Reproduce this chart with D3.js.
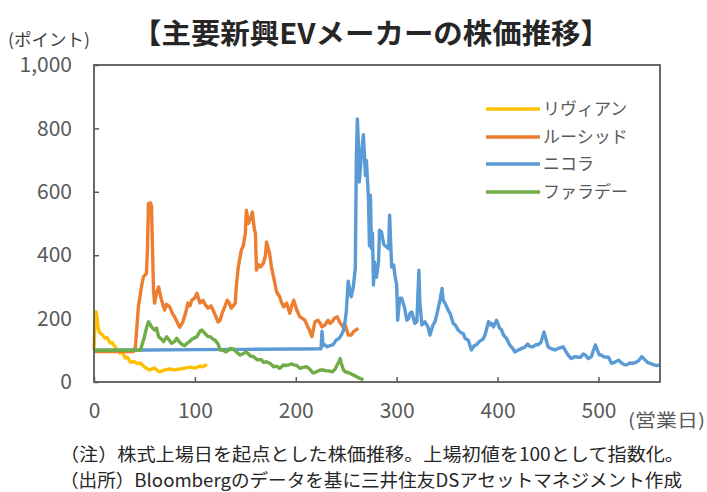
<!DOCTYPE html>
<html><head><meta charset="utf-8">
<script src="https://cdn.jsdelivr.net/npm/d3@7"></script>
<style>
html,body{margin:0;padding:0;background:#fff;}
svg{display:block;font-family:"Noto Sans CJK JP","Noto Sans",sans-serif;}
</style></head>
<body><svg id="c" width="707" height="492"></svg>
<script>
const title = "【主要新興EVメーカーの株価推移】";
const yUnit = "(ポイント)";
const xUnit = "(営業日)";
const notes = ["（注）株式上場日を起点とした株価推移。上場初値を100として指数化。",
               "（出所）Bloombergのデータを基に三井住友DSアセットマネジメント作成"];
const seriesNames = ["リヴィアン","ルーシッド","ニコラ","ファラデー"];
const seriesColors = ["#FFC000","#ED7D31","#5B9BD5","#70AD47"];
const xTicks = [0,100,200,300,400,500];
const yTicks = [0,200,400,600,800,1000];

// [営業日, 指数]
const rivian = [[0,100],[1,185],[2,222],[3,205],[4,175],[5,160],[6,154],[8,150],[11,138],[13,140],[16,123],[18,125],[21,110],[24,100],[26,91],[28,95],[31,76],[33,78],[36,63],[40,64],[43,58],[46,60],[50,47],[55,38],[58,42],[60,44],[63,36],[65,32],[70,38],[75,41],[80,38],[85,41],[90,44],[95,47],[100,44],[105,50],[108,48],[110,52],[112,55]];
const lucid = [[0,96],[39,96],[41,110],[44,237],[47,300],[49,332],[52,343],[53,420],[54,563],[56,565],[57,555],[58,420],[59,290],[60,249],[62,280],[64,300],[66,270],[67,258],[70,227],[72,245],[75,237],[78,215],[80,205],[83,185],[85,173],[88,189],[91,220],[93,249],[95,240],[97,258],[100,265],[102,280],[105,249],[108,258],[110,245],[113,233],[116,240],[118,227],[121,205],[123,189],[125,195],[127,217],[130,240],[132,258],[134,250],[136,233],[138,240],[140,249],[141,300],[143,362],[146,416],[148,430],[150,470],[151,542],[153,500],[155,515],[157,536],[159,480],[160,469],[161,353],[163,370],[165,363],[168,375],[170,400],[171,442],[172,430],[174,406],[176,360],[178,331],[181,284],[184,269],[186,250],[188,237],[191,249],[194,217],[196,240],[198,258],[201,227],[204,206],[207,200],[209,195],[212,174],[214,160],[216,143],[219,190],[222,195],[224,186],[226,174],[229,180],[232,195],[234,185],[236,190],[238,200],[241,206],[244,186],[247,174],[249,180],[252,148],[255,148],[257,158],[260,165],[262,169]];
const nikola = [[0,100],[50,101],[100,102],[150,103],[200,104],[225,105],[226,160],[227,115],[229,117],[231,111],[234,115],[237,118],[240,132],[243,138],[245,148],[247,160],[249,195],[250,221],[252,318],[254,280],[255,269],[257,300],[259,358],[260,700],[261,830],[262,760],[263,631],[265,715],[267,780],[268,720],[269,652],[270,699],[271,640],[272,584],[273,430],[274,589],[275,421],[276,470],[277,306],[278,379],[280,330],[282,379],[283,479],[285,473],[287,437],[288,431],[290,426],[292,421],[293,526],[295,363],[297,369],[298,342],[300,306],[301,195],[303,264],[305,264],[308,232],[310,195],[312,201],[313,216],[315,221],[318,185],[320,190],[322,353],[323,250],[325,180],[328,190],[331,174],[333,148],[336,180],[338,190],[340,216],[343,260],[345,295],[346,258],[348,248],[351,227],[353,216],[356,185],[358,180],[361,164],[364,155],[366,153],[368,137],[371,132],[374,101],[377,115],[379,117],[382,128],[384,132],[386,137],[388,153],[391,190],[393,180],[394,185],[396,174],[399,195],[402,170],[404,164],[406,148],[409,137],[412,117],[415,106],[417,95],[420,100],[424,106],[427,110],[430,120],[432,112],[435,111],[438,118],[440,117],[443,125],[446,158],[448,135],[450,111],[453,105],[457,101],[460,106],[462,108],[465,111],[468,95],[470,85],[473,74],[477,80],[480,78],[482,78],[485,88],[487,85],[490,74],[493,80],[495,100],[497,117],[499,100],[501,85],[503,85],[505,80],[508,78],[510,78],[513,59],[516,62],[520,69],[523,60],[526,54],[528,54],[531,60],[534,59],[537,62],[540,68],[543,80],[546,70],[549,61],[552,58],[555,54],[558,52],[561,54]];
const faraday = [[0,100],[46,100],[47,111],[50,143],[52,170],[54,190],[56,180],[57,174],[60,164],[62,170],[64,143],[67,135],[69,127],[72,143],[75,130],[77,122],[80,128],[82,138],[85,125],[88,117],[90,115],[92,122],[95,128],[97,135],[100,140],[102,143],[105,160],[107,164],[110,153],[113,143],[115,143],[118,135],[120,132],[123,120],[125,101],[128,100],[131,95],[135,106],[138,104],[141,95],[145,85],[148,90],[151,95],[155,82],[158,80],[162,70],[166,70],[168,62],[171,64],[174,59],[176,55],[178,48],[181,50],[184,43],[188,54],[190,52],[193,54],[196,57],[198,54],[201,52],[204,43],[207,46],[211,48],[214,40],[217,29],[219,30],[222,35],[225,38],[227,38],[230,35],[233,35],[236,32],[239,40],[241,54],[243,65],[244,74],[245,60],[247,40],[249,32],[252,30],[254,27],[257,22],[260,17],[263,12],[265,10],[267,6]];
const allSeries = [rivian, lucid, nikola, faraday];

const svg = d3.select("#c");
const L = 94, R = 660, T = 65, B = 382;
const x = d3.scaleLinear().domain([0, 561]).range([L, R]);
const y = d3.scaleLinear().domain([0, 1000]).range([B, T]);
const gray = "#595959";

// title
svg.append("text").attr("x", 371).attr("y", 44).attr("text-anchor", "middle")
  .attr("font-size", 28).attr("font-weight", "bold").attr("fill", "#262626")
  .attr("textLength", 478).attr("lengthAdjust", "spacingAndGlyphs").text(title);
svg.append("text").attr("x", 8).attr("y", 46).attr("font-size", 17).attr("fill", "#404040")
  .attr("textLength", 82).attr("lengthAdjust", "spacingAndGlyphs").text(yUnit);

// axes
const yAxis = d3.axisLeft(y).tickValues(yTicks).tickFormat(d3.format(",")).tickSizeInner(-5).tickSizeOuter(0).tickPadding(22);
const gy = svg.append("g").attr("transform", `translate(${L},0)`).call(yAxis);
const xAxis = d3.axisBottom(x).tickValues(xTicks).tickSizeInner(-5).tickSizeOuter(0).tickPadding(21);
const gx = svg.append("g").attr("transform", `translate(0,${B})`).call(xAxis);
[gx, gy].forEach(g => {
  g.select(".domain").remove();
  g.selectAll(".tick line").attr("stroke", gray).attr("stroke-width", 1.5);
  g.selectAll(".tick text").attr("fill", gray).attr("font-size", 21)
    .attr("font-family", "'Noto Sans CJK JP',sans-serif");
});

// lines
const line = d3.line().x(d => x(d[0])).y(d => y(d[1]));
allSeries.forEach((s, i) => {
  svg.append("path").datum(s).attr("d", line).attr("fill", "none")
    .attr("stroke", seriesColors[i]).attr("stroke-width", 3.4).attr("stroke-linejoin", "round");
});

// frame
svg.append("rect").attr("x", L).attr("y", T).attr("width", R - L).attr("height", B - T)
  .attr("fill", "none").attr("stroke", gray).attr("stroke-width", 1.8);

// legend
const legY = [109, 137, 164, 192];
seriesNames.forEach((n, i) => {
  svg.append("line").attr("x1", 486).attr("x2", 540).attr("y1", legY[i]).attr("y2", legY[i])
    .attr("stroke", seriesColors[i]).attr("stroke-width", 3.4);
  svg.append("text").attr("x", 543).attr("y", legY[i]).attr("dy", "0.35em")
    .attr("font-size", 17).attr("fill", gray).text(n);
});

svg.append("text").attr("x", 628).attr("y", 427).attr("font-size", 18).attr("fill", gray)
  .attr("textLength", 77).attr("lengthAdjust", "spacingAndGlyphs").text(xUnit);

// notes
svg.append("text").attr("x", 60).attr("y", 461).attr("font-size", 18).attr("fill", "#262626")
  .attr("textLength", 624).attr("lengthAdjust", "spacingAndGlyphs").text(notes[0]);
svg.append("text").attr("x", 60).attr("y", 487).attr("font-size", 18).attr("fill", "#262626")
  .attr("textLength", 622).attr("lengthAdjust", "spacingAndGlyphs").text(notes[1]);
</script></body></html>
